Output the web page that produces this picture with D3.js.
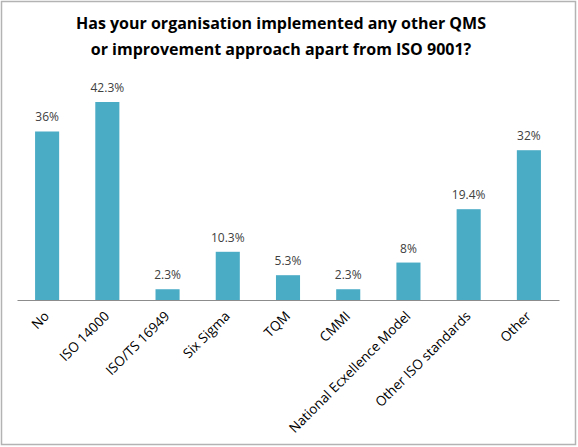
<!DOCTYPE html>
<html>
<head>
<meta charset="utf-8">
<script src="https://cdn.jsdelivr.net/npm/d3@7"></script>
<style>
  body { margin: 0; background: #fff; }
  text { font-family: "Open Sans", "Liberation Sans", sans-serif; }
</style>
</head>
<body>
<div id="chart"></div>
<script>
// Chart data
var categories = ["No", "ISO 14000", "ISO/TS 16949", "Six Sigma", "TQM", "CMMI",
                  "National Ecxellence Model", "Other ISO standards", "Other"];
var values = [36, 42.3, 2.3, 10.3, 5.3, 2.3, 8, 19.4, 32];
var valueLabels = ["36%", "42.3%", "2.3%", "10.3%", "5.3%", "2.3%", "8%", "19.4%", "32%"];
var titleLines = ["Has your organisation implemented any other QMS",
                  "or improvement approach apart from ISO 9001?"];

var width = 578, height = 447;
var margin = {left: 17, right: 19, baseline: 300};

var svg = d3.select("#chart")
    .append("svg")
    .attr("width", width)
    .attr("height", height);

// Outer border
svg.append("rect")
    .attr("x", 1.5).attr("y", 1.5)
    .attr("width", width - 4).attr("height", height - 4)
    .attr("fill", "#fff")
    .attr("stroke", "#b3b3b3")
    .attr("stroke-width", 1.5);

// Title
svg.selectAll(".title")
    .data(titleLines)
    .enter()
    .append("text")
    .attr("class", "title")
    .attr("x", 281)
    .attr("y", function(d, i) { return 29 + i * 26; })
    .attr("text-anchor", "middle")
    .style("font-weight", "bold")
    .style("font-size", "16px")
    .style("fill", "#000")
    .text(function(d) { return d; });

// Scales
var x = d3.scaleBand()
    .domain(categories)
    .range([margin.left, width - margin.right])
    .paddingInner(0.6)
    .paddingOuter(0.3);

var y = d3.scaleLinear()
    .domain([0, 42.3])
    .range([margin.baseline, 102]);

// Bars
svg.selectAll(".bar")
    .data(values)
    .enter()
    .append("rect")
    .attr("class", "bar")
    .attr("x", function(d, i) { return x(categories[i]); })
    .attr("y", function(d) { return y(d); })
    .attr("width", x.bandwidth())
    .attr("height", function(d) { return y(0) - y(d); })
    .style("fill", "#4bacc6");

// Value labels
svg.selectAll(".vlabel")
    .data(values)
    .enter()
    .append("text")
    .attr("class", "vlabel")
    .attr("x", function(d, i) { return x(categories[i]) + x.bandwidth() / 2; })
    .attr("y", function(d) { return y(d) - 10; })
    .attr("text-anchor", "middle")
    .style("font-size", "12px")
    .style("fill", "#404040")
    .text(function(d, i) { return valueLabels[i]; });

// X axis
var xAxis = svg.append("g")
    .attr("transform", "translate(0," + margin.baseline + ")")
    .call(d3.axisBottom(x).tickSize(0).tickPadding(0));

xAxis.select(".domain")
    .attr("stroke", "#8c8c8c")
    .attr("stroke-width", 1.2);

xAxis.selectAll("text")
    .attr("y", 0)
    .attr("dy", 0)
    .attr("text-anchor", "end")
    .attr("transform", "translate(3,17) rotate(-45)")
    .style("font-family", "\"Open Sans\", sans-serif")
    .style("font-size", "13.5px")
    .style("fill", "#000");
</script>
</body>
</html>
